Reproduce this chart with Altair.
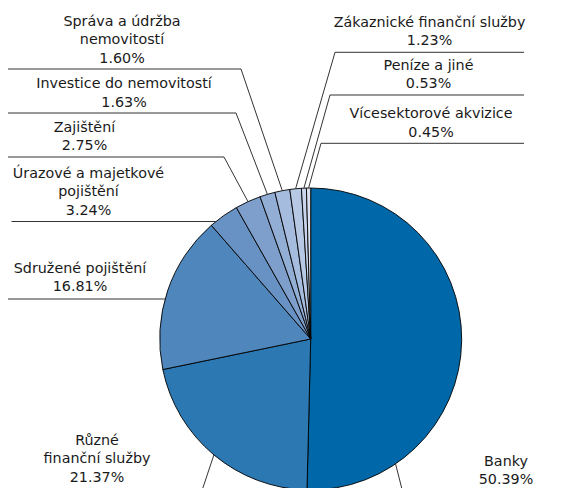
import math
import altair as alt
import pandas as pd

# ---------------- data ----------------
categories = [
    "Banky",
    "Různé finanční služby",
    "Sdružené pojištění",
    "Úrazové a majetkové pojištění",
    "Zajištění",
    "Investice do nemovitostí",
    "Správa a údržba nemovitostí",
    "Zákaznické finanční služby",
    "Peníze a jiné",
    "Vícesektorové akvizice",
]
shares = [50.39, 21.37, 16.81, 3.24, 2.75, 1.63, 1.60, 1.23, 0.53, 0.45]
colors = ["#0068a8", "#2b78b3", "#4f86bc", "#6892c3", "#7e9fcb",
          "#93aed5", "#a6bcde", "#b7c8e5", "#c9d5ec", "#d9e1f1"]

# wrapped display text of each label
label_lines = [
    ["Banky"],
    ["Různé", "finanční služby"],
    ["Sdružené pojištění"],
    ["Úrazové a majetkové", "pojištění"],
    ["Zajištění"],
    ["Investice do nemovitostí"],
    ["Správa a údržba", "nemovitostí"],
    ["Zákaznické finanční služby"],
    ["Peníze a jiné"],
    ["Vícesektorové akvizice"],
]

# ---------------- layout (page pixels) ----------------
W, H = 569, 480
X0, Y0 = 8, 8
CX, CY, R = 310.7, 339.0, 151.0
LINE_H = 18.4
label_x = [506, 97, 80, 88.5, 84.5, 124, 122, 429.5, 428.5, 431]
label_y = [466, 445, 272.7, 177.7, 131.7, 88.3, 26, 26.7, 70, 118.3]

# leader polylines: "mid" = slice mid-angle on rim, ("ang", a) = rim at angle,
# ("circ", y) = left rim at height y, tuples = fixed elbow points
leaders = [
    [("ang", 145.8), (404.2, 498)],
    ["mid", (199.5, 498)],
    [(8, 299), ("circ", 299)],
    [(11.5, 221.5), ("circ", 221.5)],
    [(8, 157), (224, 157), "mid"],
    [(8, 113), (236, 113), "mid"],
    [(8, 69), (241, 69), "mid"],
    [(524, 52.3), (335, 52.3), "mid"],
    [(524, 95), (330, 95), "mid"],
    [(524, 143.3), (321, 143.3), "mid"],
]

total = sum(shares)
cum = 0.0
mids = []
for s in shares:
    mids.append((cum + s / 2) / total * 360.0)
    cum += s


def rim(angle_deg):
    a = math.radians(angle_deg)
    return CX + R * math.sin(a), CY - R * math.cos(a)


line_rows = []
for i, pts in enumerate(leaders):
    for k, p in enumerate(pts):
        if p == "mid":
            x, y = rim(mids[i])
        elif isinstance(p[0], str) and p[0] == "ang":
            x, y = rim(p[1])
        elif isinstance(p[0], str) and p[0] == "circ":
            y = p[1]
            x = CX - math.sqrt(R * R - (y - CY) ** 2)
        else:
            x, y = p
        line_rows.append({"id": i, "k": k, "x": x, "y": y})

text_rows = []
for i, lines in enumerate(label_lines):
    all_lines = lines + [f"{shares[i]:.2f}%"]
    for j, t in enumerate(all_lines):
        text_rows.append({"x": label_x[i], "y": label_y[i] + j * LINE_H, "t": t})

pie_df = pd.DataFrame({"category": categories, "share": shares,
                       "idx": list(range(len(categories)))})
line_df = pd.DataFrame(line_rows)
text_df = pd.DataFrame(text_rows)

xs = alt.Scale(domain=[X0, X0 + W], nice=False, zero=False)
ys = alt.Scale(domain=[Y0, Y0 + H], nice=False, zero=False, reverse=True)

pie = alt.Chart(pie_df).mark_arc(radius=R, stroke="#000000", strokeWidth=0.9).encode(
    theta=alt.Theta("share:Q", stack=True),
    order=alt.Order("idx:Q"),
    color=alt.Color("category:N", scale=alt.Scale(domain=categories, range=colors), legend=None),
    x=alt.XDatum(CX, type="quantitative", scale=xs, axis=None),
    y=alt.YDatum(CY, type="quantitative", scale=ys, axis=None),
)

lines = alt.Chart(line_df).mark_line(color="#333333", strokeWidth=1).encode(
    x=alt.X("x:Q", scale=xs, axis=None),
    y=alt.Y("y:Q", scale=ys, axis=None),
    detail="id:N",
    order="k:Q",
)

texts = alt.Chart(text_df).mark_text(
    align="center", baseline="alphabetic", font="DejaVu Sans", fontSize=14.3, color="#1a1a1a"
).encode(
    x=alt.X("x:Q", scale=xs, axis=None),
    y=alt.Y("y:Q", scale=ys, axis=None),
    text="t:N",
)

chart = alt.layer(pie, lines, texts).properties(
    width=W, height=H, autosize=alt.AutoSizeParams(type="none"), padding=0
).configure_view(strokeWidth=0)

chart.save("out.html", embed_options={"renderer": "svg", "actions": False})
